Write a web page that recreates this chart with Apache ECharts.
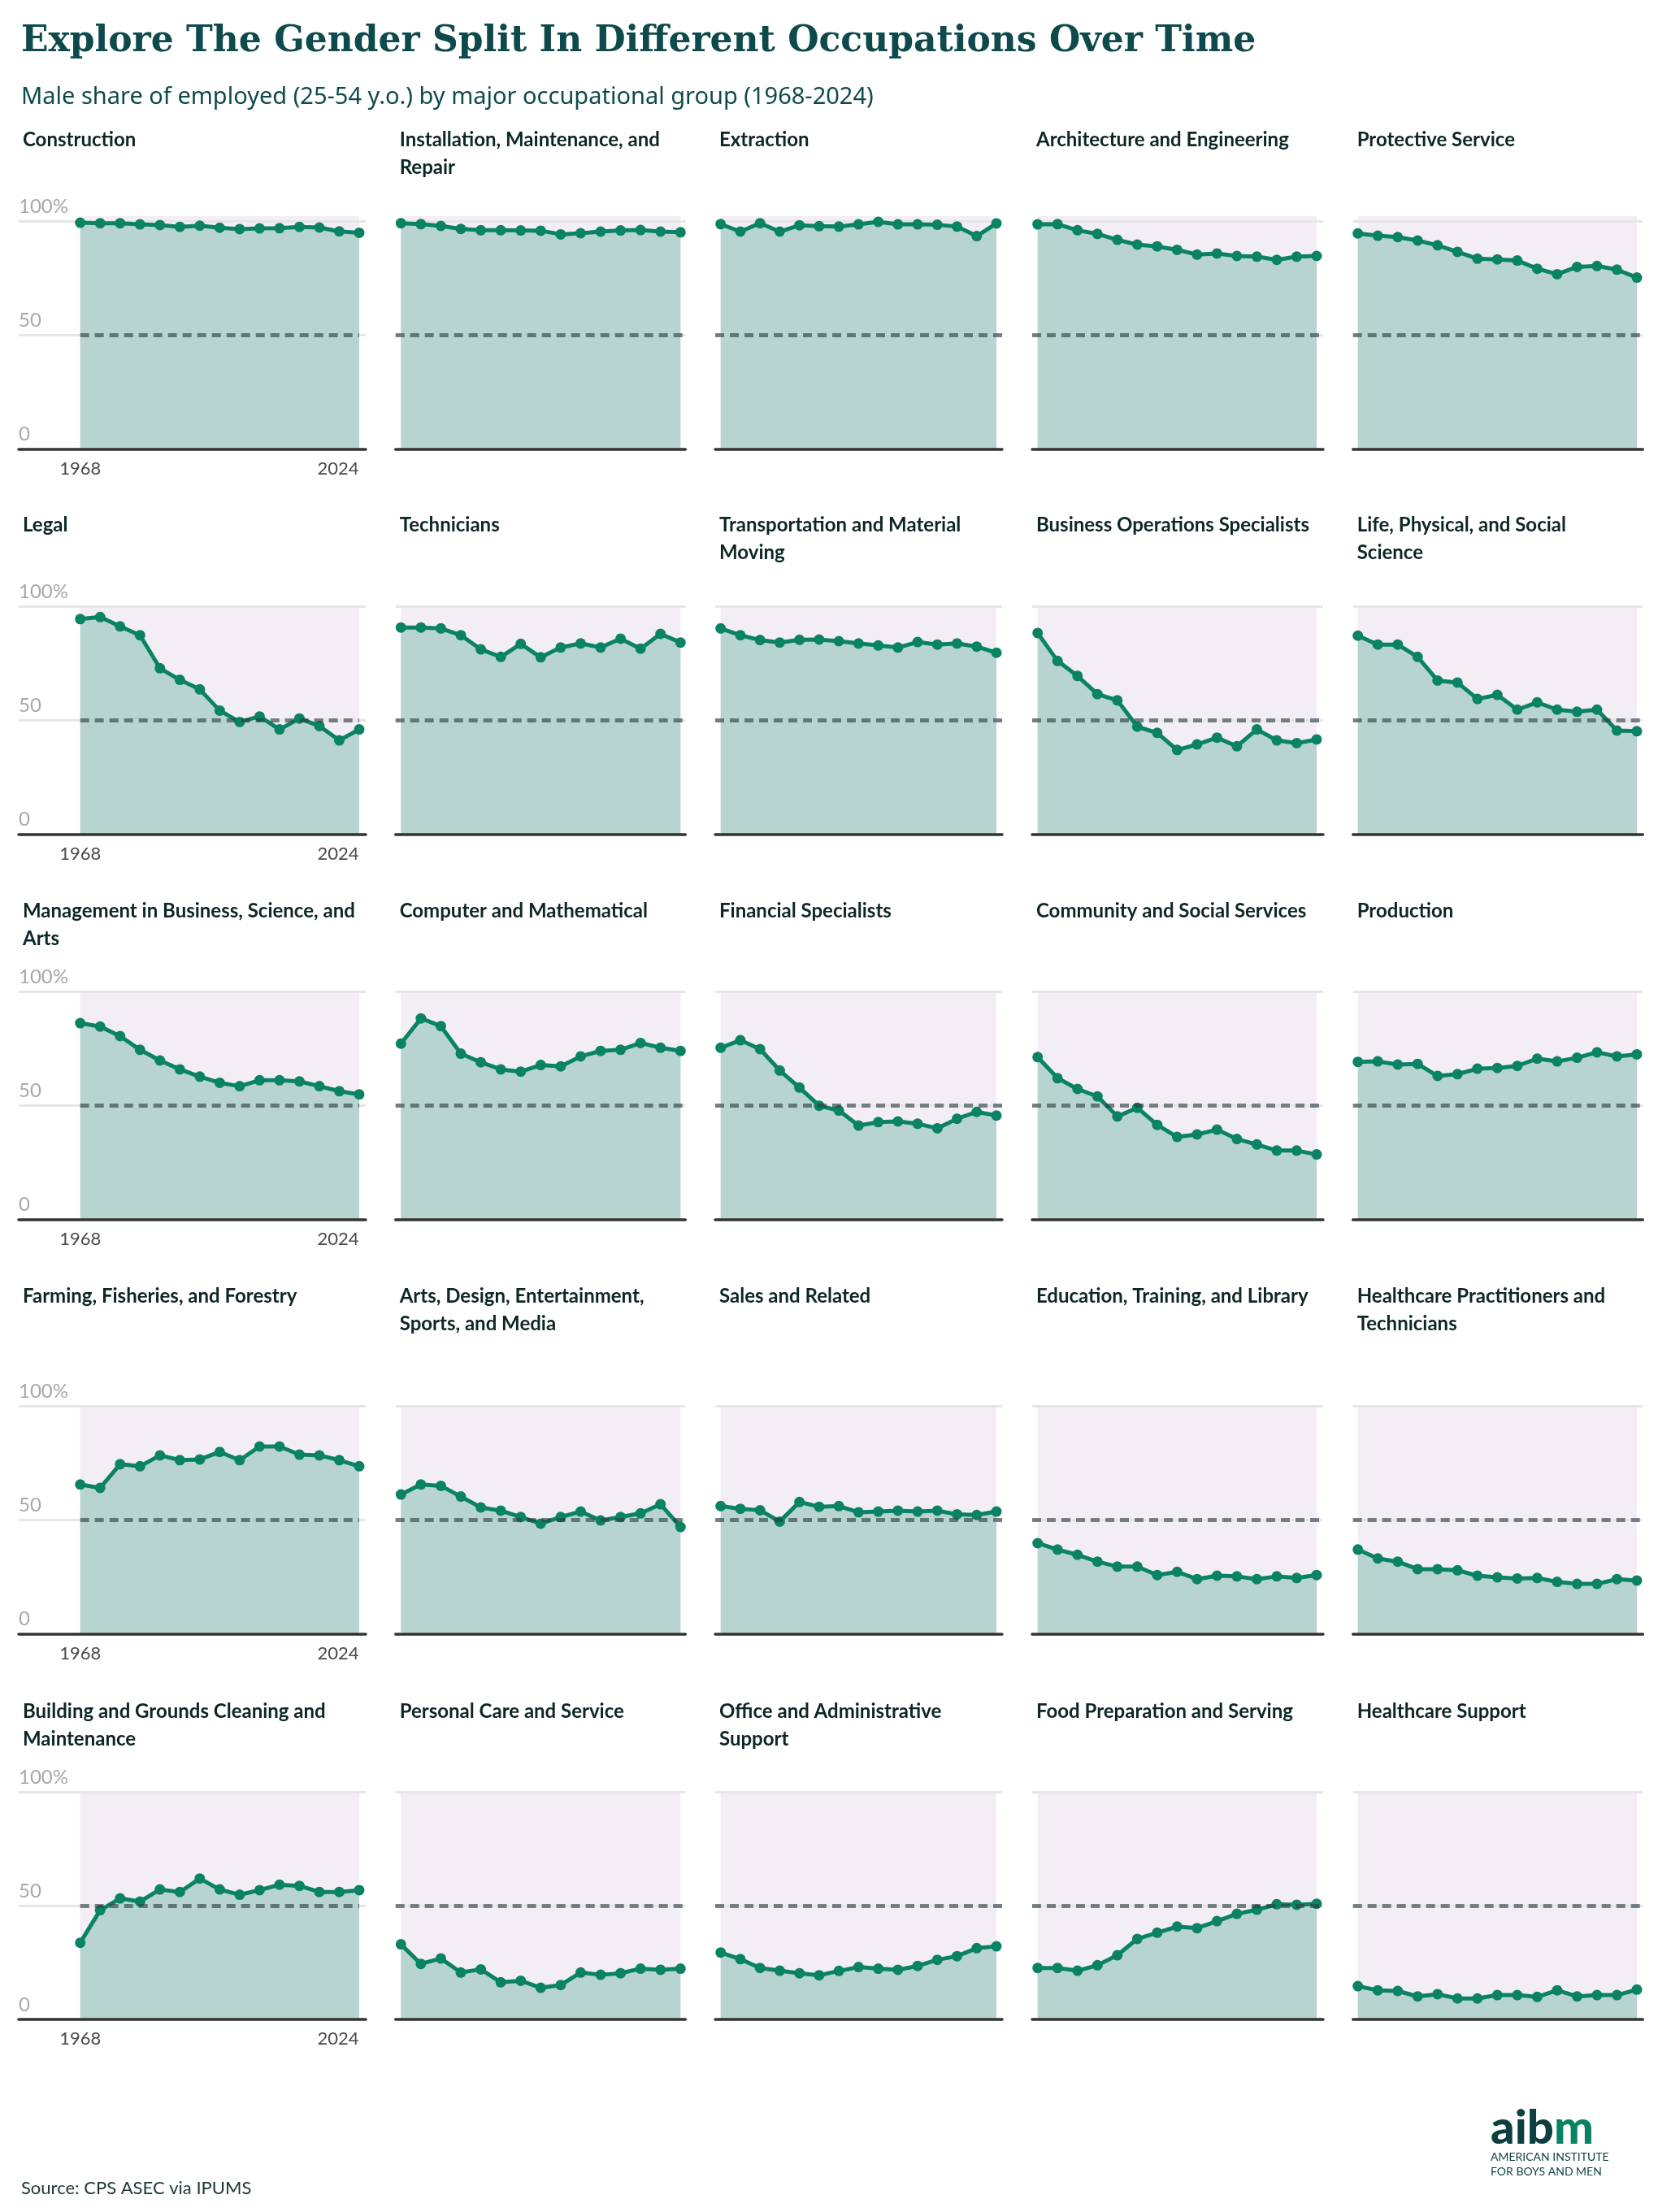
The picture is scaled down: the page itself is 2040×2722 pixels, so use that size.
<!DOCTYPE html>
<html><head><meta charset="utf-8">
<script src="https://cdn.jsdelivr.net/npm/echarts@6/dist/echarts.min.js"></script>
<style>html,body{margin:0;padding:0;background:#fff}#c{width:2040px;height:2722px}</style>
</head><body><div id="c"></div>
<script>
// ---------- DATA ----------
const years = [1968,1972,1976,1980,1984,1988,1992,1996,2000,2004,2008,2012,2016,2020,2024];
const yTicks = [0, 50, 100];
const yearLabels = [1968, 2024];

const construction   = [99.5,99.3,99.3,98.8,98.5,97.7,98.2,97.3,96.7,97.0,97.1,97.7,97.4,95.7,95.1];
const installation   = [99.3,98.9,98.1,96.8,96.2,96.2,96.1,96.0,94.4,94.9,95.6,96.1,96.3,95.6,95.3];
const extraction     = [98.9,95.6,99.3,95.6,98.4,98.0,97.8,98.8,99.9,98.8,98.8,98.6,97.8,93.6,99.2];
const architecture   = [98.8,98.9,96.2,94.6,92.0,89.9,89.1,87.6,85.5,86.0,84.9,84.6,83.2,84.6,84.9];
const protective     = [94.8,93.8,93.2,91.7,89.6,86.7,83.7,83.4,82.9,79.3,76.9,80.1,80.5,78.9,75.4];
const legal          = [94.6,95.5,91.4,87.5,73.0,67.9,63.7,54.4,49.4,51.8,46.1,50.9,47.6,41.3,46.1];
const technicians    = [90.9,90.9,90.5,87.5,81.3,78.0,83.7,77.8,82.1,83.9,82.1,86.0,81.6,88.1,84.3];
const transportation = [90.5,87.5,85.4,84.3,85.5,85.6,84.9,83.9,83.0,82.1,84.5,83.4,83.9,82.5,79.8];
const businessOps    = [88.5,76.2,69.6,61.6,58.9,47.3,44.6,37.1,39.5,42.5,38.7,46.1,41.3,40.1,41.7];
const lifeScience    = [87.3,83.4,83.4,78.0,67.6,66.7,59.5,61.3,54.8,58.0,54.8,53.9,54.8,45.6,45.3];
const management     = [86.3,84.8,80.6,74.6,69.9,66.0,62.8,60.1,58.6,61.2,61.2,60.7,58.6,56.4,55.0];
const computerMath   = [77.3,88.4,85.0,72.9,69.1,66.0,65.0,67.9,67.3,71.7,74.1,74.6,77.6,75.5,74.1];
const financial      = [75.5,78.8,74.9,65.5,58.0,50.0,47.9,41.3,42.8,43.1,42.1,40.1,44.3,47.3,45.7];
const community      = [71.4,62.1,57.4,54.1,45.3,49.1,41.6,36.3,37.4,39.5,35.4,33.0,30.3,30.3,28.6];
const production     = [69.3,69.5,68.1,68.4,63.1,63.9,66.3,66.6,67.5,70.7,69.5,71.1,73.5,71.7,72.6];
const farming        = [65.7,64.2,74.6,73.7,78.5,76.4,76.7,80.0,76.4,82.4,82.4,78.8,78.5,76.4,73.7];
const arts           = [61.3,65.7,65.1,60.4,55.6,54.2,51.4,48.5,51.4,53.8,49.9,51.4,53.0,57.0,47.0];
const sales          = [56.2,55.0,54.4,49.4,58.0,55.9,56.2,53.5,53.8,54.2,53.8,54.2,52.6,52.3,53.8];
const education      = [39.9,37.1,34.8,31.8,29.6,29.6,25.9,27.3,24.1,25.6,25.3,24.1,25.3,24.6,25.9];
const healthPract    = [37.1,33.2,31.8,28.5,28.5,28.0,25.6,24.9,24.4,24.6,22.9,22.0,22.0,24.1,23.5];
const building       = [33.7,48.0,53.2,51.8,57.1,56.0,61.9,57.1,54.8,56.8,59.2,58.7,56.0,56.0,56.8];
const personalCare   = [33.0,24.4,26.8,20.6,22.0,16.3,17.0,13.9,15.1,20.6,19.6,20.3,22.3,21.8,22.3];
const office         = [29.4,26.5,22.6,21.4,20.3,19.4,21.3,23.0,22.3,21.8,23.5,26.2,27.8,31.3,32.1];
const foodPrep       = [22.6,22.6,21.4,23.8,28.2,35.4,38.1,40.8,40.1,43.2,46.4,48.2,50.6,50.4,50.8];
const healthSupport  = [14.6,12.8,12.5,10.1,11.1,9.2,9.2,10.7,10.7,9.9,12.8,10.1,10.7,10.7,13.1];

const panelNames = [
  'Construction', 'Installation, Maintenance, and\nRepair', 'Extraction', 'Architecture and Engineering', 'Protective Service',
  'Legal', 'Technicians', 'Transportation and Material\nMoving', 'Business Operations Specialists', 'Life, Physical, and Social\nScience',
  'Management in Business, Science, and\nArts', 'Computer and Mathematical', 'Financial Specialists', 'Community and Social Services', 'Production',
  'Farming, Fisheries, and Forestry', 'Arts, Design, Entertainment,\nSports, and Media', 'Sales and Related', 'Education, Training, and Library', 'Healthcare Practitioners and\nTechnicians',
  'Building and Grounds Cleaning and\nMaintenance', 'Personal Care and Service', 'Office and Administrative\nSupport', 'Food Preparation and Serving', 'Healthcare Support'
];
const panelValues = [
  construction, installation, extraction, architecture, protective,
  legal, technicians, transportation, businessOps, lifeScience,
  management, computerMath, financial, community, production,
  farming, arts, sales, education, healthPract,
  building, personalCare, office, foodPrep, healthSupport
];

// ---------- LAYOUT ----------
const colGridLeft  = [23, 486.7, 880, 1270, 1664.7];
const colGridRight = [450, 843.3, 1233, 1628, 2021.3];
const colDataLeft  = [98.7, 493.3, 886.7, 1276.7, 1670.7];
const colDataRight = [442, 837.3, 1226, 1620, 2014];
const rowAxisY  = [552.7, 1026.7, 1500.7, 2010.7, 2485];
const rowTitleY = [167, 641, 1116.7, 1590.7, 2101];
const rowYMax   = [102.4, 100, 100, 100, 100];
const pxPerUnit = 2.8;

const GREEN = '#0a8364', FILL = '#b8d4d0', BG = '#f2eef4';
const FONT = 'Lato';

const grids = [], xAxes = [], yAxes = [], series = [], titles = [];

titles.push({
  text: 'Explore The Gender Split In Different Occupations Over Time',
  left: 21, top: 23,
  textStyle: {fontFamily: 'DejaVu Serif', fontWeight: 'bold', fontSize: 44, color: '#0e4a4b', lineHeight: 48}
});
titles.push({
  text: 'Male share of employed (25-54 y.o.) by major occupational group (1968-2024)',
  left: 21, top: 99,
  textStyle: {fontFamily: 'Noto Sans', fontWeight: 'normal', fontSize: 29, color: '#0e4a4b', lineHeight: 32}
});
titles.push({
  text: 'Source: CPS ASEC via IPUMS',
  left: 21, top: 2677,
  textStyle: {fontFamily: FONT, fontWeight: 'normal', fontSize: 22, color: '#1d3535', lineHeight: 22}
});
titles.push({
  text: '{d|aib}{g|m}',
  left: 1829, top: 2585,
  textStyle: {rich: {
    d: {fontFamily: FONT, fontWeight: 900, fontSize: 58, color: '#0e3f40', lineHeight: 58},
    g: {fontFamily: FONT, fontWeight: 900, fontSize: 58, color: GREEN, lineHeight: 58}
  }}
});
titles.push({
  text: 'AMERICAN INSTITUTE\nFOR BOYS AND MEN',
  left: 1829, top: 2640,
  textStyle: {fontFamily: FONT, fontWeight: 'normal', fontSize: 14, color: '#0e3f40', lineHeight: 18}
});

panelNames.forEach((name, i) => {
  const r = Math.floor(i / 5), c = i % 5;
  const ymax = rowYMax[r];
  const gl = colGridLeft[c], gr = colGridRight[c];
  const dl = colDataLeft[c], dr = colDataRight[c];
  const ppy = (dr - dl) / (years[years.length - 1] - years[0]);
  const h = ymax * pxPerUnit;

  grids.push({left: gl, top: rowAxisY[r] - h, width: gr - gl, height: h, containLabel: false});

  titles.push({
    text: name, left: gl, top: rowTitleY[r] - 17,
    textStyle: {fontFamily: FONT, fontWeight: 'bold', fontSize: 24, color: '#0d2626', lineHeight: 34}
  });

  xAxes.push({
    type: 'value', gridIndex: i,
    min: years[0] - (dl - gl) / ppy,
    max: years[years.length - 1] + (gr - dr) / ppy,
    z: 10,
    axisLine: {show: true, lineStyle: {color: '#333', width: 3.5}},
    axisTick: {show: false},
    splitLine: {show: false},
    axisLabel: {
      show: c === 0,
      customValues: yearLabels,
      margin: 13,
      fontFamily: FONT, fontSize: 22, color: '#4a4a4a',
      formatter: v => v === yearLabels[0] ? String(v) : (v === yearLabels[1] ? '{r|' + v + '}' : ''),
      rich: {r: {fontFamily: FONT, fontSize: 22, color: '#4a4a4a', padding: [0, 52, 0, 0]}}
    }
  });

  yAxes.push({
    type: 'value', gridIndex: i, min: 0, max: ymax, interval: 50,
    axisLine: {show: false}, axisTick: {show: false}, splitLine: {show: false},
    axisLabel: {
      show: c === 0, inside: true, margin: 0, align: 'left', verticalAlign: 'bottom',
      padding: [0, 0, 6, 0],
      fontFamily: FONT, fontSize: 24, color: '#a8a8a8',
      formatter: v => yTicks.indexOf(v) < 0 ? '' : (v === 100 ? '100%' : String(v))
    }
  });

  // gridlines (50, 100)
  series.push({
    type: 'line', xAxisIndex: i, yAxisIndex: i, data: [], silent: true, z: 1,
    markLine: {
      silent: true, symbol: 'none', z: 1.5, animation: false,
      label: {show: false},
      lineStyle: {type: 'solid', color: '#e6e6e6', width: 3},
      data: [{yAxis: yTicks[1]}, {yAxis: yTicks[2]}]
    }
  });

  // main series with background, area, line, points and 50% dashed reference
  series.push({
    type: 'line', xAxisIndex: i, yAxisIndex: i, z: 2,
    data: years.map((y, k) => [y, panelValues[i][k]]),
    symbol: 'circle', symbolSize: 13, showSymbol: true,
    lineStyle: {color: GREEN, width: 5},
    itemStyle: {color: GREEN},
    areaStyle: {color: FILL, opacity: 1},
    animation: false, silent: true,
    markArea: {
      silent: true, z: 1,
      itemStyle: {color: BG},
      data: [[{xAxis: years[0], yAxis: 0}, {xAxis: years[years.length - 1], yAxis: ymax}]]
    },
    markLine: {
      silent: true, symbol: 'none', z: 5, animation: false,
      label: {show: false},
      lineStyle: {type: [11, 7], color: 'rgba(45,60,62,0.62)', width: 5, cap: 'butt'},
      data: c === 0
        ? [[{coord: [years[0], 50]}, {coord: [years[years.length - 1], 50]}]]
        : [{yAxis: 50}]
    }
  });
});

const chart = echarts.init(document.getElementById('c'), null, {renderer: 'canvas'});
chart.setOption({
  backgroundColor: '#ffffff',
  animation: false,
  title: titles,
  grid: grids,
  xAxis: xAxes,
  yAxis: yAxes,
  series: series
});
</script>
</body></html>
